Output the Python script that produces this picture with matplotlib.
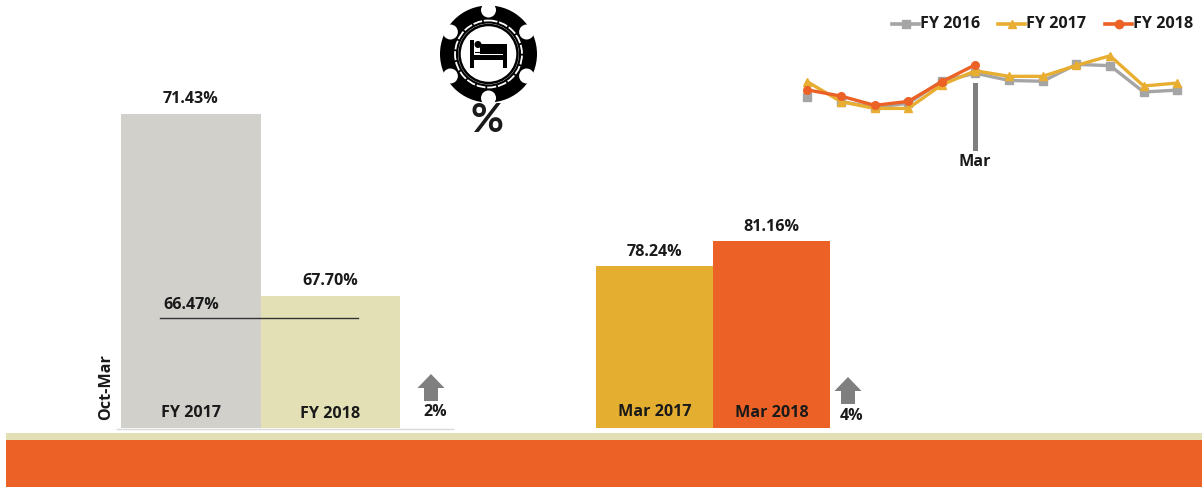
"""Occupancy slide: Oct-Mar and March bars, plus a monthly sparkline."""
import matplotlib

matplotlib.use("Agg")
import matplotlib.pyplot as plt
from matplotlib.patches import Circle, Polygon, Rectangle
import numpy as np

W, H = 1202, 487

period_labels = ["FY 2017", "FY 2018"]
period_values = [71.43, 67.70]
period_change = "2%"
period_avg_label = "66.47%"

march_labels = ["Mar 2017", "Mar 2018"]
march_values = [78.24, 81.16]
march_change = "4%"

months = list(range(12))
fy2016 = [65.4, 63.2, 60.4, 62.4, 73.2, 77.0, 73.5, 73.1, 81.3, 80.7, 67.9, 68.8]
fy2017 = [72.9, 63.2, 59.9, 59.9, 71.4, 78.2, 75.5, 75.5, 80.8, 85.5, 70.8, 72.25]
fy2018 = [68.9, 65.9, 61.4, 63.3, 72.9, 81.16]

GRAY_BAR = "#D1D0CB"
BEIGE = "#E3E0B6"
GOLD = "#E4AE30"
ORANGE = "#EC6125"
LINE_GRAY = "#A5A5A5"
ARROW = "#7F7F7F"
TEXT = "#1a1a1a"
FS = 11.6

plt.rcParams["font.family"] = ["Open Sans", "DejaVu Sans"]
plt.rcParams["font.weight"] = "bold"


def px_axes(fig, left, top, right, bottom):
    ax = fig.add_axes([left / W, 1 - bottom / H, (right - left) / W, (bottom - top) / H])
    ax.axis("off")
    return ax


def arrow(ax, cx, top):
    ax.add_patch(Polygon([(cx - 13.5, top + 14), (cx, top), (cx + 13.5, top + 14),
                          (cx + 7, top + 14), (cx + 7, top + 27), (cx - 7, top + 27),
                          (cx - 7, top + 14)], color=ARROW, lw=0))


def chip(ax, cx, cy, r):
    ax.add_patch(Circle((cx, cy), r, color="black", lw=0))
    for a in np.deg2rad([90, 30, 150, 210, 330, 270]):
        ax.add_patch(Circle((cx + 44 * np.cos(a), cy - 44 * np.sin(a)), 7.5,
                            color="white", lw=0))
    ax.add_patch(Circle((cx, cy), 33.5, fill=False, ec="white", lw=1.3, ls=(0, (5, 1))))
    ax.add_patch(Circle((cx, cy), 30.5, color="white", lw=0))
    ax.add_patch(Circle((cx, cy), 29, fill=False, ec="black", lw=1.8))
    # bed
    ax.add_patch(Rectangle((cx - 18.5, cy - 14), 4, 28, color="black", lw=0))
    ax.add_patch(Rectangle((cx + 14.5, cy - 10), 4, 24, color="black", lw=0))
    ax.add_patch(Rectangle((cx - 18.5, cy + 1), 37, 5, color="black", lw=0))
    ax.add_patch(Rectangle((cx - 9, cy - 10), 24, 10, color="black", lw=0))
    ax.add_patch(Circle((cx - 10.5, cy - 9.5), 3.5, color="black", lw=0))
    ax.plot([cx - 14, cx - 7.5, cx - 7.5], [cy - 2, cy - 2, cy - 10], color="black", lw=0.8)


fig = plt.figure(figsize=(W / 100, H / 100), dpi=100)

# decoration layer in pixel coordinates
deco = fig.add_axes([0, 0, 1, 1], zorder=0)
deco.set_xlim(0, W)
deco.set_ylim(H, 0)
deco.axis("off")
deco.add_patch(Rectangle((6, 433), W - 6, 7, color=BEIGE, lw=0))
deco.add_patch(Rectangle((6, 440), W - 6, 47, color=ORANGE, lw=0))
deco.plot([117, 453], [428.5, 428.5], color="#D9D9D9", lw=1)
chip(deco, 488.5, 54, 48.5)
deco.text(487, 121, "%", fontsize=29, ha="center", va="center", color=TEXT,
          family=["Lato", "DejaVu Sans"], weight="bold")
arrow(deco, 431, 374)
arrow(deco, 848, 377)
deco.text(435, 412, period_change, fontsize=FS, ha="center", va="center", color=TEXT)
deco.text(852, 416, march_change, fontsize=FS, ha="center", va="center", color=TEXT)
deco.text(106, 387, "Oct-Mar", fontsize=FS, rotation=90, ha="center", va="center", color=TEXT)

# Oct-Mar bars
ax1 = px_axes(fig, 121, 86.4, 400, 428)
ax1.set_zorder(1)
ax1.set_xlim(-0.5, 1.5)
ax1.set_ylim(65, 72)
ax1.bar([0, 1], period_values, width=1, bottom=0, color=[GRAY_BAR, BEIGE])
for i, v in enumerate(period_values):
    ax1.annotate(f"{v:.2f}%", (i, v), xytext=(0, 7), textcoords="offset pixels",
                 ha="center", va="bottom", fontsize=FS, color=TEXT)
ax1.text(0, 65.3, period_labels[0], fontsize=FS, ha="center", va="center", color=TEXT)
ax1.text(1, 65.28, period_labels[1], fontsize=FS, ha="center", va="center", color=TEXT)
deco_line = fig.add_axes([0, 0, 1, 1], zorder=2)
deco_line.set_xlim(0, W)
deco_line.set_ylim(H, 0)
deco_line.axis("off")
deco_line.plot([160, 358], [318, 318], color="#333333", lw=1)
deco_line.text(191, 305, period_avg_label, fontsize=FS, ha="center", va="center", color=TEXT)

# March bars
ax2 = px_axes(fig, 596, 233.7, 830, 428)
ax2.set_zorder(1)
ax2.set_xlim(-0.5, 1.5)
ax2.set_ylim(59.3, 82)
ax2.bar([0, 1], march_values, width=1, color=[GOLD, ORANGE])
for i, v in enumerate(march_values):
    ax2.annotate(f"{v:.2f}%", (i, v), xytext=(0, 6), textcoords="offset pixels",
                 ha="center", va="bottom", fontsize=FS, color=TEXT)
ax2.text(0, 61.2, march_labels[0], fontsize=FS, ha="center", va="center", color=TEXT)
ax2.text(1, 61.0, march_labels[1], fontsize=FS, ha="center", va="center", color=TEXT)

# monthly sparkline
ax3 = px_axes(fig, 807.3, 46.5, 1177.3, 118.5)
ax3.set_zorder(3)
ax3.set_xlim(0, 11)
ax3.set_ylim(55, 90)
ax3.plot(months[1:], fy2016[1:], color=LINE_GRAY, lw=2.4, marker="s", ms=5.5, clip_on=False)
ax3.plot(months[:1], fy2016[:1], color=LINE_GRAY, lw=0, marker="s", ms=5.5, clip_on=False)
ax3.plot(months, fy2017, color="#E8AE32", lw=2.4, marker="^", ms=5.5, clip_on=False)
ax3.plot(months[:len(fy2018)], fy2018, color=ORANGE, lw=2.4, marker="o", ms=5.5, clip_on=False)

deco.add_patch(Rectangle((973.3, 83), 4.7, 68, color=ARROW, lw=0))
deco.text(975, 162, "Mar", fontsize=FS, ha="center", va="center", color=TEXT)

# legend, placed by hand like the original
for x0, color, marker, label in [(892, LINE_GRAY, "s", "FY 2016"),
                                 (998, "#E8AE32", "^", "FY 2017"),
                                 (1105, ORANGE, "o", "FY 2018")]:
    deco.plot([x0, x0 + 27], [23.5, 23.5], color=color, lw=2.6)
    deco.plot([x0 + 13.5], [23.5], color=color, marker=marker, ms=6)
    deco.text(x0 + 28, 23.5, label, fontsize=FS, ha="left", va="center", color=TEXT)

fig.savefig("out.png", dpi=100)
